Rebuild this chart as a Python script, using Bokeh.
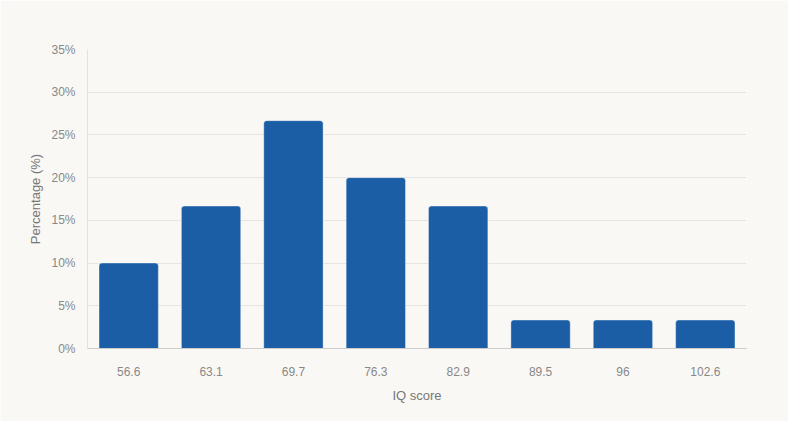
from bokeh.plotting import figure
from bokeh.embed import file_html
from bokeh.resources import INLINE
from bokeh.models import ColumnDataSource, FactorRange, Label, FixedTicker, CustomJSTickFormatter

categories = ["56.6", "63.1", "69.7", "76.3", "82.9", "89.5", "96", "102.6"]
percentages = [10.0, 16.67, 26.67, 20.0, 16.67, 3.33, 3.33, 3.33]
y_ticks = [0, 5, 10, 15, 20, 25, 30, 35]

BG = "#f9f8f5"
FONT = "Liberation Sans"

src = ColumnDataSource(data=dict(cat=categories, pct=percentages))

p = figure(
    x_range=FactorRange(*categories, range_padding=0),
    y_range=(0, 35),
    width=788, height=421,
    output_backend="svg", toolbar_location=None,
    background_fill_color=BG, border_fill_color=BG,
    min_border_left=87, min_border_right=42, min_border_top=49, min_border_bottom=73,
)
p.outline_line_color = None

p.vbar(x="cat", top="pct", width=0.72, source=src,
       fill_color="#1b5ea5", line_color="white", line_alpha=0.35, line_width=1,
       border_radius=(3, 3, 0, 0))

p.yaxis.ticker = FixedTicker(ticks=y_ticks)
p.yaxis.formatter = CustomJSTickFormatter(code="return tick + '%';")
p.ygrid.grid_line_color = "#e6e5e1"
p.ygrid.grid_line_width = 1
p.xgrid.grid_line_color = None

for ax in (p.xaxis, p.yaxis):
    ax.major_tick_line_color = None
    ax.minor_tick_line_color = None
    ax.major_label_text_font = FONT
    ax.major_label_text_font_size = "12px"
    ax.major_label_text_color = "#888888"
    ax.axis_label_text_font = FONT
    ax.axis_label_text_font_size = "13px"
    ax.axis_label_text_color = "#777777"
    ax.axis_label_text_font_style = "normal"

p.yaxis.axis_line_color = "#e3e2de"
p.yaxis.major_label_standoff = 6
p.yaxis.axis_label = "Percentage (%)"
p.yaxis.axis_label_standoff = 5

p.xaxis.axis_line_color = "#cccccc"
p.xaxis.major_label_standoff = 12
p.xaxis.axis_label = "IQ score"
p.xaxis.axis_label_standoff = 9

p.add_layout(Label(x=7.76, y=35.3, text="\u00b7\u00b7\u00b7", text_font=FONT,
                   text_font_size="16px", text_font_style="bold", text_color="#dcdcdc",
                   text_align="center", text_baseline="middle"))

html = file_html(p, INLINE)
open("out.html", "w").write(html)
